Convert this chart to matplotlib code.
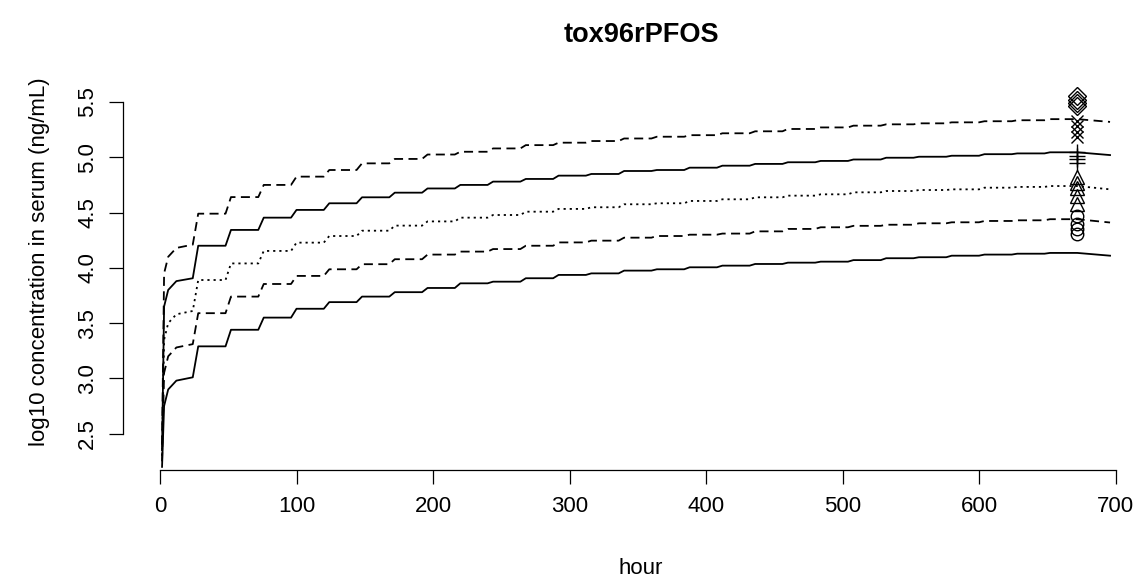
import matplotlib
matplotlib.use("Agg")
import matplotlib.pyplot as plt

plt.rcParams['font.family'] = ['Liberation Sans', 'DejaVu Sans']

# daily dose times (hours) and level reached after each dose
dose_hours = [24 * k for k in range(28)]
end_hour = 696
early_hours = [1.5, 3, 6, 12]

top_dashed = [4.21, 4.49, 4.64, 4.75, 4.825, 4.885, 4.945, 4.985, 5.025, 5.05,
              5.08, 5.11, 5.132, 5.147, 5.17, 5.186, 5.20, 5.217, 5.235, 5.256,
              5.27, 5.286, 5.298, 5.307, 5.316, 5.326, 5.335, 5.345]
upper_solid = [3.906, 4.20, 4.343, 4.454, 4.524, 4.584, 4.638, 4.68, 4.718, 4.75,
               4.78, 4.804, 4.834, 4.849, 4.876, 4.885, 4.906, 4.924, 4.94, 4.955,
               4.967, 4.98, 4.996, 5.005, 5.014, 5.028, 5.035, 5.045]
middle_dotted = [3.61, 3.89, 4.04, 4.153, 4.228, 4.288, 4.336, 4.382, 4.42, 4.454,
                 4.478, 4.508, 4.533, 4.548, 4.575, 4.584, 4.605, 4.62, 4.638, 4.653,
                 4.665, 4.683, 4.695, 4.704, 4.71, 4.725, 4.732, 4.74]
lower_dashed = [3.31, 3.59, 3.74, 3.854, 3.927, 3.987, 4.033, 4.078, 4.12, 4.147,
                4.17, 4.20, 4.23, 4.246, 4.273, 4.288, 4.30, 4.31, 4.33, 4.352,
                4.367, 4.38, 4.39, 4.403, 4.412, 4.424, 4.43, 4.44]
bottom_solid = [3.01, 3.29, 3.44, 3.55, 3.63, 3.69, 3.74, 3.78, 3.818, 3.86,
                3.875, 3.906, 3.936, 3.95, 3.975, 3.987, 4.005, 4.02, 4.035, 4.047,
                4.056, 4.07, 4.087, 4.096, 4.11, 4.12, 4.128, 4.135]

# first hours after the first dose
top_early = [2.4, 3.95, 4.1, 4.18]
upper_early = [2.35, 3.65, 3.8, 3.88]
middle_early = [2.3, 3.35, 3.5, 3.58]
lower_early = [2.25, 3.05, 3.2, 3.28]
bottom_early = [2.2, 2.75, 2.9, 2.98]

# value at the last hour
end_values = [5.32, 5.02, 4.71, 4.41, 4.11]

# observed data at 672 h
obs_hour = 672
obs_circles = [4.47, 4.40, 4.35, 4.31]
obs_triangles = [4.82, 4.77, 4.72, 4.65, 4.58]
obs_plus = [5.05, 5.01, 4.98, 4.95]
obs_x = [5.33, 5.28, 5.23, 5.18]
obs_diamonds = [5.55, 5.52, 5.49, 5.46]


def build_curve(early, levels, end_value, rise=4):
    xs = list(early_hours)
    ys = list(early)
    for k in range(1, len(levels)):
        xs += [dose_hours[k], dose_hours[k] + rise]
        ys += [levels[k - 1], levels[k]]
    xs += [dose_hours[-1] + 24, end_hour]
    ys += [levels[-1], end_value]
    return xs, ys


fig = plt.figure(figsize=(11.38, 5.83), dpi=100)
W, H = 1138, 583
ax = fig.add_axes([123 / W, (H - 470) / H, (W - 123) / W, (470 - 60) / H])

lines = [
    (top_early, top_dashed, end_values[0], (0, (5, 3))),
    (upper_early, upper_solid, end_values[1], '-'),
    (middle_early, middle_dotted, end_values[2], (0, (1.2, 2.2))),
    (lower_early, lower_dashed, end_values[3], (0, (5, 3))),
    (bottom_early, bottom_solid, end_values[4], '-'),
]
for early, levels, end_value, ls in lines:
    xs, ys = build_curve(early, levels, end_value)
    ax.plot(xs, ys, color='black', lw=1.3, linestyle=ls)

mk = dict(color='black', linestyle='none', markerfacecolor='none',
          markeredgewidth=1.0)
ax.plot([obs_hour] * len(obs_circles), obs_circles, marker='o', markersize=9, **mk)
ax.plot([obs_hour] * len(obs_triangles), obs_triangles, marker='^', markersize=10, **mk)
ax.plot([obs_hour] * len(obs_plus), obs_plus, marker='+', markersize=11, **mk)
ax.plot([obs_hour] * len(obs_x), obs_x, marker='x', markersize=9, **mk)
ax.plot([obs_hour] * len(obs_diamonds), obs_diamonds, marker='D', markersize=9.5, **mk)

# pixel mapping: 0 h -> x=160, 700 h -> x=1115.5 ; 5.5 -> y=102, 2.5 -> y=433.7
px_per_hour = (1115.5 - 160) / 700
px_per_unit = (433.7 - 102) / 3
ax.set_xlim((123 - 160) / px_per_hour, (W - 160) / px_per_hour)
ax.set_ylim(2.5 - (470 - 433.7) / px_per_unit, 5.5 + (102 - 60) / px_per_unit)

for side in ['top', 'right']:
    ax.spines[side].set_visible(False)
ax.spines['left'].set_bounds(2.5, 5.5)
ax.spines['bottom'].set_bounds(0, 700)
ax.spines['left'].set_linewidth(0.9)
ax.spines['bottom'].set_linewidth(0.9)

ax.set_xticks(range(0, 701, 100))
ax.set_yticks([2.5, 3.0, 3.5, 4.0, 4.5, 5.0, 5.5])
ax.set_yticklabels(['2.5', '3.0', '3.5', '4.0', '4.5', '5.0', '5.5'],
                   rotation=90, va='center')
ax.tick_params(axis='both', length=10, width=0.9, labelsize=16)
ax.tick_params(axis='x', pad=9)
ax.tick_params(axis='y', pad=8)
ax.patch.set_visible(False)

fig.text(641 / W, 1 - 35 / H, 'tox96rPFOS', ha='center', va='center',
         fontsize=19.5, fontweight='bold')
fig.text(641 / W, 1 - 568 / H, 'hour', ha='center', va='center', fontsize=16)
fig.text(40 / W, 1 - 262 / H, 'log10 concentration in serum (ng/mL)',
         ha='center', va='center', rotation=90, fontsize=16)

fig.savefig('out.png', dpi=100)
